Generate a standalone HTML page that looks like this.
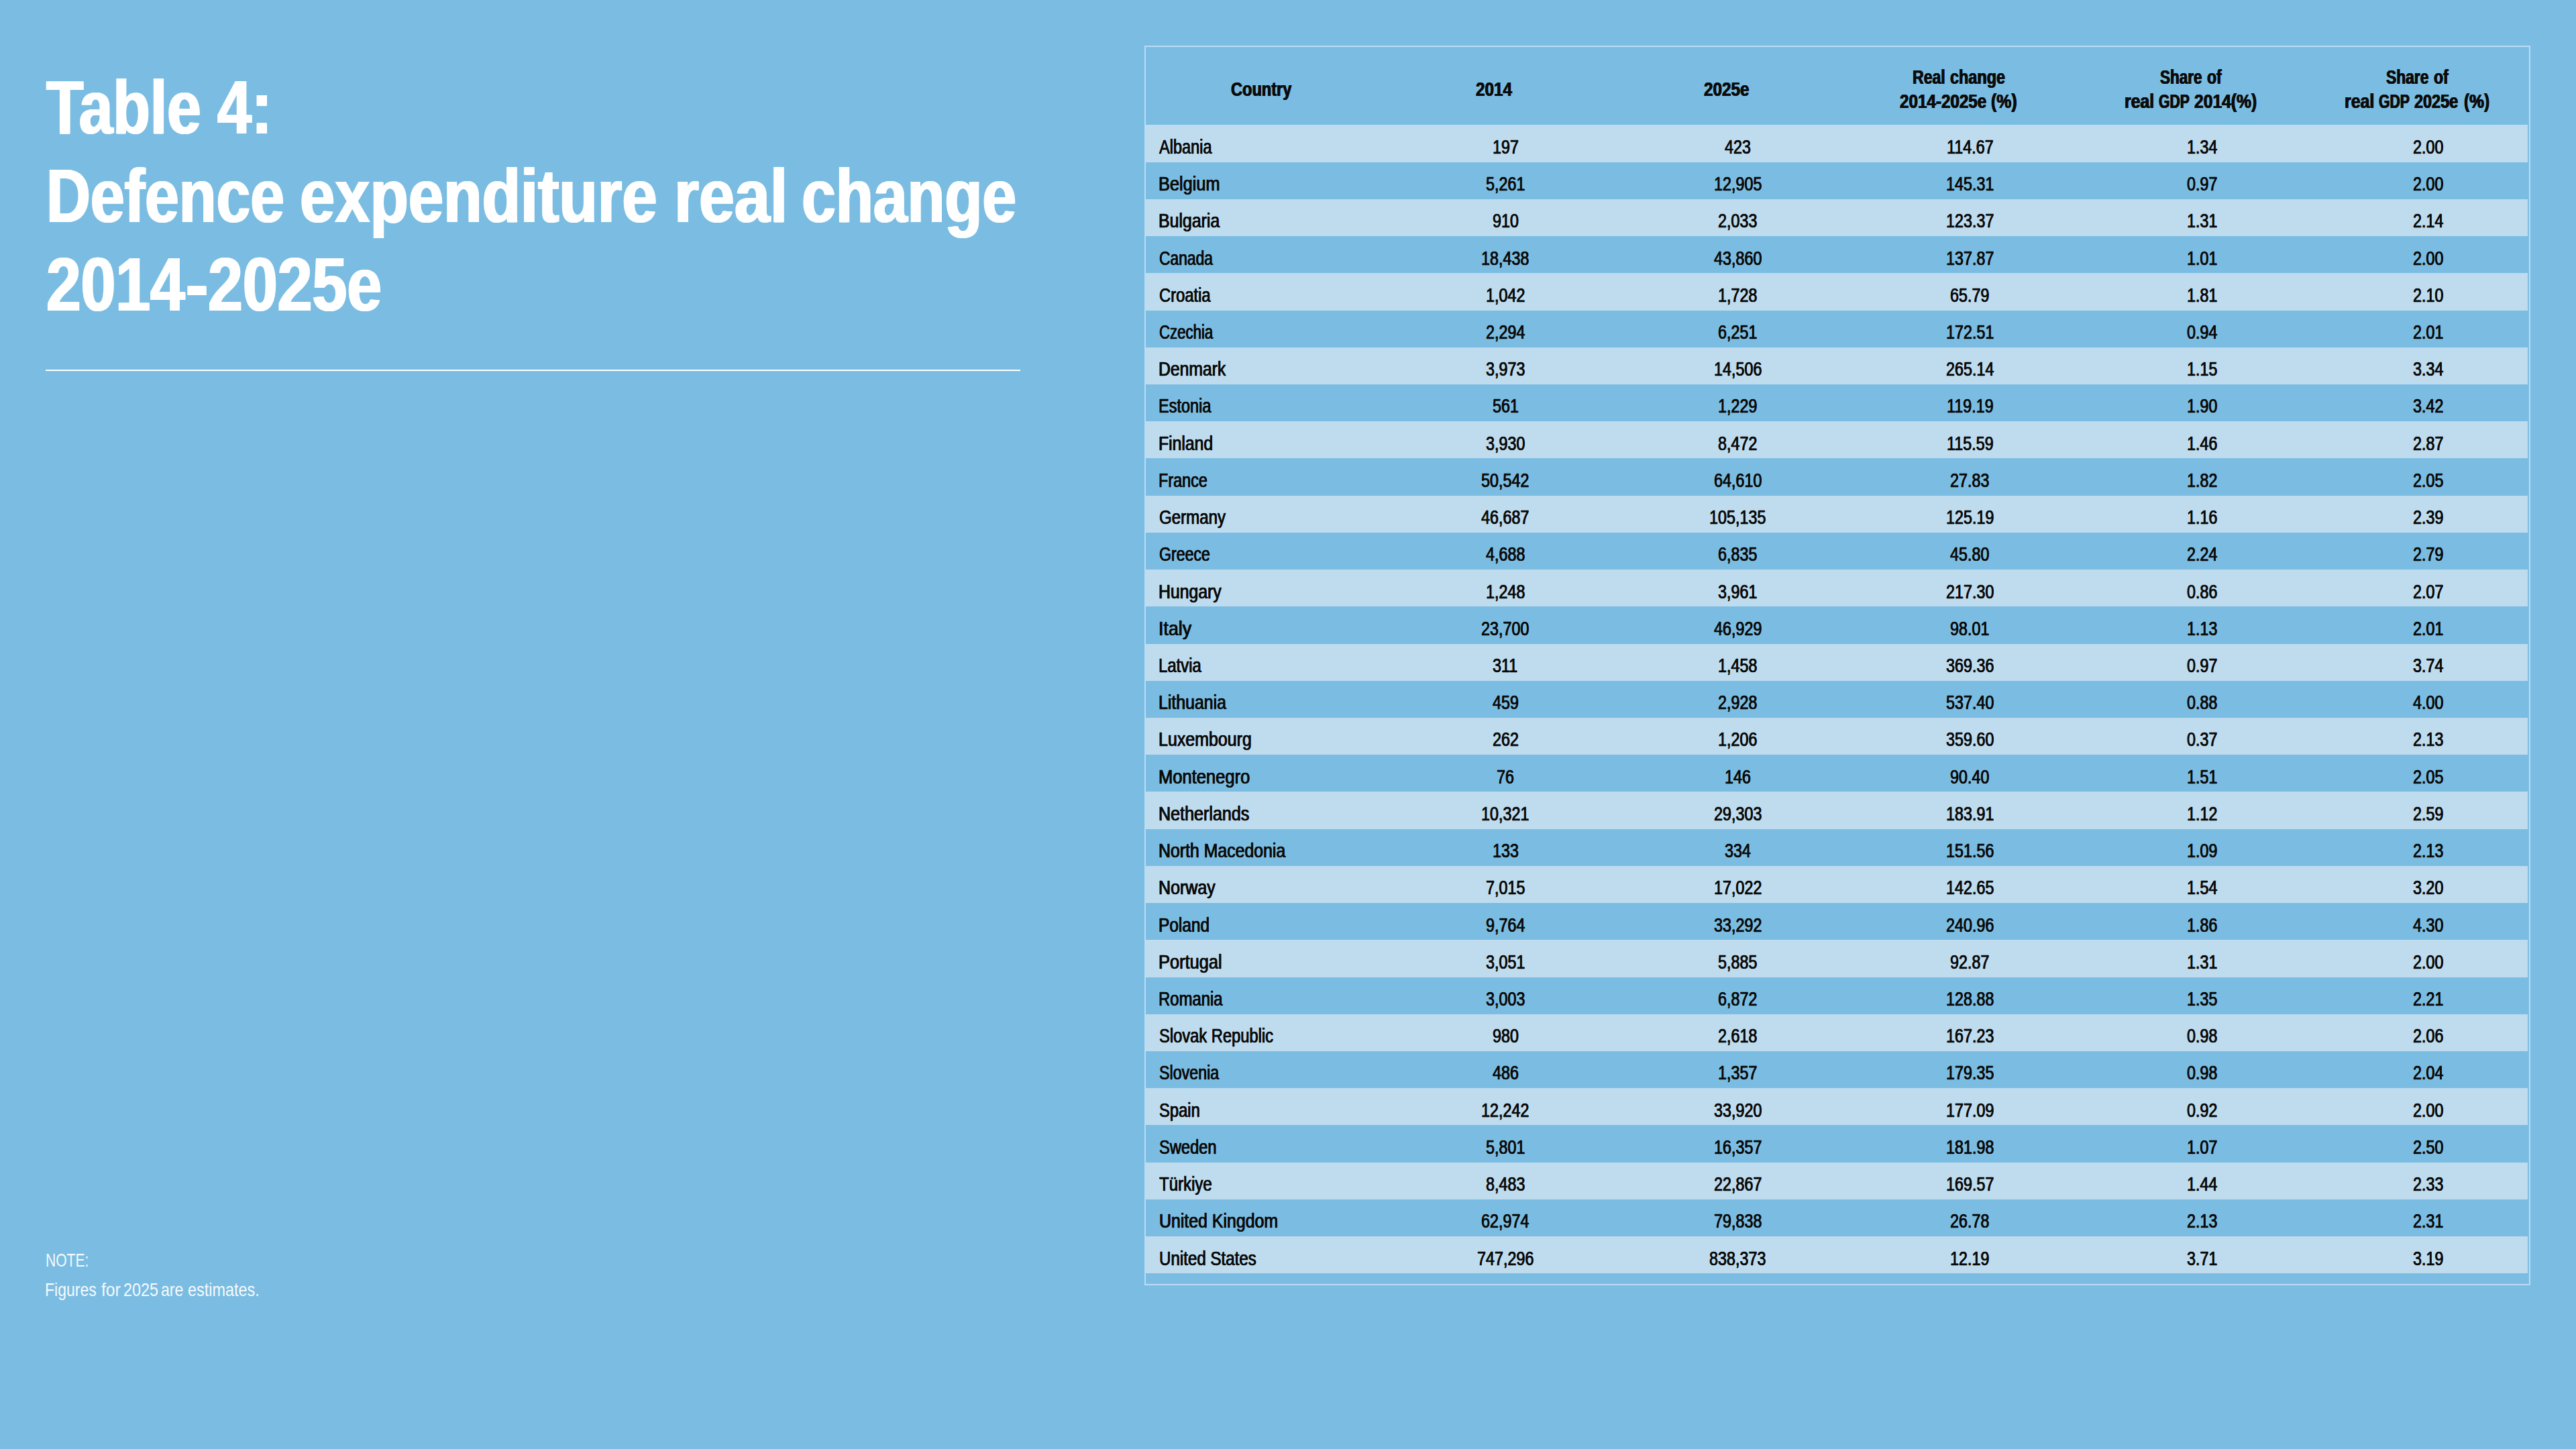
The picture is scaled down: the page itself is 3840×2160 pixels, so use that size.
<!DOCTYPE html>
<html lang="en"><head><meta charset="utf-8"><title>Table 4: Defence expenditure real change 2014-2025e</title>
<style>
html,body{margin:0;padding:0;}
body{width:3840px;height:2160px;overflow:hidden;background:#7bbde2;font-family:"Liberation Sans",sans-serif;position:relative;}
.t{position:absolute;white-space:nowrap;transform-origin:0 0;}
.h{font-weight:bold;color:#fff;font-size:113px;line-height:113px;text-shadow:1.6px 0 0 #fff,-1.6px 0 0 #fff;}
.n{color:rgba(255,255,255,.94);font-size:28px;line-height:28px;}
.th{font-weight:bold;color:#0b0b0b;font-size:29px;line-height:29px;text-shadow:.65px 0 0 #0b0b0b,-.65px 0 0 #0b0b0b;}
.td{color:#0b0b0b;font-size:29px;line-height:29px;-webkit-text-stroke:.3px #0b0b0b;text-shadow:.45px 0 0 #0b0b0b,-.45px 0 0 #0b0b0b;}
.row{position:absolute;left:1708px;width:2060px;background:#bedcee;}
.rule{position:absolute;left:68px;top:551px;width:1453px;height:2px;background:#fff;}
.frame{position:absolute;left:1706px;top:68px;width:2062px;height:1844px;border:2px solid #badbf8;}
</style></head><body>
<div class="rule"></div>
<div class="frame"></div>
<div class="row" style="top:186px;height:56px"></div>
<div class="row" style="top:297px;height:55px"></div>
<div class="row" style="top:407px;height:56px"></div>
<div class="row" style="top:518px;height:55px"></div>
<div class="row" style="top:628px;height:55px"></div>
<div class="row" style="top:739px;height:55px"></div>
<div class="row" style="top:849px;height:55px"></div>
<div class="row" style="top:960px;height:55px"></div>
<div class="row" style="top:1070px;height:55px"></div>
<div class="row" style="top:1180px;height:56px"></div>
<div class="row" style="top:1291px;height:55px"></div>
<div class="row" style="top:1401px;height:56px"></div>
<div class="row" style="top:1512px;height:55px"></div>
<div class="row" style="top:1622px;height:55px"></div>
<div class="row" style="top:1733px;height:55px"></div>
<div class="row" style="top:1843px;height:55px"></div>
<div class="t h" style="left:69.18px;top:104.25px;transform:scaleX(0.8044)">Table</div>
<div class="t h" style="left:323.88px;top:104.25px;transform:scaleX(0.8114)">4:</div>
<div class="t h" style="left:69.34px;top:236.05px;transform:scaleX(0.8075)">Defence</div>
<div class="t h" style="left:446.69px;top:236.05px;transform:scaleX(0.8315)">expenditure</div>
<div class="t h" style="left:1004.73px;top:236.05px;transform:scaleX(0.8415)">real</div>
<div class="t h" style="left:1195.25px;top:236.05px;transform:scaleX(0.8091)">change</div>
<div class="t h" style="left:68.53px;top:368.05px;transform:scaleX(0.8222)">2014</div>
<div class="t h" style="left:276.84px;top:368.05px;transform:scaleX(0.8833)">-</div>
<div class="t h" style="left:310.02px;top:368.05px;transform:scaleX(0.8244)">2025e</div>
<div class="t n" style="left:67.61px;top:1864.80px;transform:scaleX(0.7529)">NOTE:</div>
<div class="t n" style="left:67.45px;top:1908.60px;transform:scaleX(0.8222)">Figures</div>
<div class="t n" style="left:150.56px;top:1908.60px;transform:scaleX(0.8819)">for</div>
<div class="t n" style="left:184.05px;top:1908.60px;transform:scaleX(0.8336)">2025</div>
<div class="t n" style="left:240.17px;top:1908.60px;transform:scaleX(0.8263)">are</div>
<div class="t n" style="left:279.95px;top:1908.60px;transform:scaleX(0.8372)">estimates.</div>
<div class="t th" style="left:1835.41px;top:118.85px;transform:scaleX(0.8131)">Country</div>
<div class="t th" style="left:2199.91px;top:118.85px;transform:scaleX(0.8366)">2014</div>
<div class="t th" style="left:2539.51px;top:118.85px;transform:scaleX(0.8370)">2025e</div>
<div class="t th" style="left:2850.63px;top:100.65px;transform:scaleX(0.7959)">Real</div>
<div class="t th" style="left:2906.52px;top:100.65px;transform:scaleX(0.8076)">change</div>
<div class="t th" style="left:3219.63px;top:100.65px;transform:scaleX(0.7770)">Share</div>
<div class="t th" style="left:3290.22px;top:100.65px;transform:scaleX(0.7949)">of</div>
<div class="t th" style="left:3556.62px;top:100.65px;transform:scaleX(0.7858)">Share</div>
<div class="t th" style="left:3627.62px;top:100.65px;transform:scaleX(0.7949)">of</div>
<div class="t th" style="left:2831.81px;top:136.75px;transform:scaleX(0.8348)">2014-2025e</div>
<div class="t th" style="left:2968.37px;top:136.75px;transform:scaleX(0.8565)">(%)</div>
<div class="t th" style="left:3167.25px;top:136.75px;transform:scaleX(0.8545)">real</div>
<div class="t th" style="left:3218.36px;top:136.75px;transform:scaleX(0.7298)">GDP</div>
<div class="t th" style="left:3270.80px;top:136.75px;transform:scaleX(0.8503)">2014(%)</div>
<div class="t th" style="left:3495.14px;top:136.75px;transform:scaleX(0.8586)">real</div>
<div class="t th" style="left:3546.16px;top:136.75px;transform:scaleX(0.7314)">GDP</div>
<div class="t th" style="left:3599.02px;top:136.75px;transform:scaleX(0.8082)">2025e</div>
<div class="t th" style="left:3672.58px;top:136.75px;transform:scaleX(0.8450)">(%)</div>
<div class="t td" style="left:1728.49px;top:204.90px;transform:scaleX(0.8111)">Albania</div>
<div class="t td" style="left:2224.62px;top:204.90px;transform:scaleX(0.8050)">197</div>
<div class="t td" style="left:2570.72px;top:204.90px;transform:scaleX(0.8050)">423</div>
<div class="t td" style="left:2901.76px;top:204.90px;transform:scaleX(0.8050)">114.67</div>
<div class="t td" style="left:3260.08px;top:204.90px;transform:scaleX(0.8050)">1.34</div>
<div class="t td" style="left:3597.38px;top:204.90px;transform:scaleX(0.8050)">2.00</div>
<div class="t td" style="left:1727.34px;top:260.12px;transform:scaleX(0.8733)">Belgium</div>
<div class="t td" style="left:2214.89px;top:260.12px;transform:scaleX(0.8050)">5,261</div>
<div class="t td" style="left:2554.50px;top:260.12px;transform:scaleX(0.8050)">12,905</div>
<div class="t td" style="left:2900.90px;top:260.12px;transform:scaleX(0.8050)">145.31</div>
<div class="t td" style="left:3260.08px;top:260.12px;transform:scaleX(0.8050)">0.97</div>
<div class="t td" style="left:3597.38px;top:260.12px;transform:scaleX(0.8050)">2.00</div>
<div class="t td" style="left:1727.37px;top:315.34px;transform:scaleX(0.8574)">Bulgaria</div>
<div class="t td" style="left:2224.62px;top:315.34px;transform:scaleX(0.8050)">910</div>
<div class="t td" style="left:2560.99px;top:315.34px;transform:scaleX(0.8050)">2,033</div>
<div class="t td" style="left:2900.90px;top:315.34px;transform:scaleX(0.8050)">123.37</div>
<div class="t td" style="left:3260.08px;top:315.34px;transform:scaleX(0.8050)">1.31</div>
<div class="t td" style="left:3597.38px;top:315.34px;transform:scaleX(0.8050)">2.14</div>
<div class="t td" style="left:1727.99px;top:370.56px;transform:scaleX(0.7866)">Canada</div>
<div class="t td" style="left:2208.40px;top:370.56px;transform:scaleX(0.8050)">18,438</div>
<div class="t td" style="left:2554.50px;top:370.56px;transform:scaleX(0.8050)">43,860</div>
<div class="t td" style="left:2900.90px;top:370.56px;transform:scaleX(0.8050)">137.87</div>
<div class="t td" style="left:3260.08px;top:370.56px;transform:scaleX(0.8050)">1.01</div>
<div class="t td" style="left:3597.38px;top:370.56px;transform:scaleX(0.8050)">2.00</div>
<div class="t td" style="left:1727.96px;top:425.78px;transform:scaleX(0.8187)">Croatia</div>
<div class="t td" style="left:2214.89px;top:425.78px;transform:scaleX(0.8050)">1,042</div>
<div class="t td" style="left:2560.99px;top:425.78px;transform:scaleX(0.8050)">1,728</div>
<div class="t td" style="left:2907.39px;top:425.78px;transform:scaleX(0.8050)">65.79</div>
<div class="t td" style="left:3260.08px;top:425.78px;transform:scaleX(0.8050)">1.81</div>
<div class="t td" style="left:3597.38px;top:425.78px;transform:scaleX(0.8050)">2.10</div>
<div class="t td" style="left:1728.01px;top:481.00px;transform:scaleX(0.7650)">Czechia</div>
<div class="t td" style="left:2214.89px;top:481.00px;transform:scaleX(0.8050)">2,294</div>
<div class="t td" style="left:2560.99px;top:481.00px;transform:scaleX(0.8050)">6,251</div>
<div class="t td" style="left:2900.90px;top:481.00px;transform:scaleX(0.8050)">172.51</div>
<div class="t td" style="left:3260.08px;top:481.00px;transform:scaleX(0.8050)">0.94</div>
<div class="t td" style="left:3597.38px;top:481.00px;transform:scaleX(0.8050)">2.01</div>
<div class="t td" style="left:1727.38px;top:536.22px;transform:scaleX(0.8520)">Denmark</div>
<div class="t td" style="left:2214.89px;top:536.22px;transform:scaleX(0.8050)">3,973</div>
<div class="t td" style="left:2554.50px;top:536.22px;transform:scaleX(0.8050)">14,506</div>
<div class="t td" style="left:2900.90px;top:536.22px;transform:scaleX(0.8050)">265.14</div>
<div class="t td" style="left:3260.08px;top:536.22px;transform:scaleX(0.8050)">1.15</div>
<div class="t td" style="left:3597.38px;top:536.22px;transform:scaleX(0.8050)">3.34</div>
<div class="t td" style="left:1727.46px;top:591.44px;transform:scaleX(0.8098)">Estonia</div>
<div class="t td" style="left:2224.62px;top:591.44px;transform:scaleX(0.8050)">561</div>
<div class="t td" style="left:2560.99px;top:591.44px;transform:scaleX(0.8050)">1,229</div>
<div class="t td" style="left:2901.76px;top:591.44px;transform:scaleX(0.8050)">119.19</div>
<div class="t td" style="left:3260.08px;top:591.44px;transform:scaleX(0.8050)">1.90</div>
<div class="t td" style="left:3597.38px;top:591.44px;transform:scaleX(0.8050)">3.42</div>
<div class="t td" style="left:1727.38px;top:646.66px;transform:scaleX(0.8526)">Finland</div>
<div class="t td" style="left:2214.89px;top:646.66px;transform:scaleX(0.8050)">3,930</div>
<div class="t td" style="left:2560.99px;top:646.66px;transform:scaleX(0.8050)">8,472</div>
<div class="t td" style="left:2901.76px;top:646.66px;transform:scaleX(0.8050)">115.59</div>
<div class="t td" style="left:3260.08px;top:646.66px;transform:scaleX(0.8050)">1.46</div>
<div class="t td" style="left:3597.38px;top:646.66px;transform:scaleX(0.8050)">2.87</div>
<div class="t td" style="left:1727.47px;top:701.88px;transform:scaleX(0.8073)">France</div>
<div class="t td" style="left:2208.40px;top:701.88px;transform:scaleX(0.8050)">50,542</div>
<div class="t td" style="left:2554.50px;top:701.88px;transform:scaleX(0.8050)">64,610</div>
<div class="t td" style="left:2907.39px;top:701.88px;transform:scaleX(0.8050)">27.83</div>
<div class="t td" style="left:3260.08px;top:701.88px;transform:scaleX(0.8050)">1.82</div>
<div class="t td" style="left:3597.38px;top:701.88px;transform:scaleX(0.8050)">2.05</div>
<div class="t td" style="left:1727.95px;top:757.10px;transform:scaleX(0.8298)">Germany</div>
<div class="t td" style="left:2208.40px;top:757.10px;transform:scaleX(0.8050)">46,687</div>
<div class="t td" style="left:2548.01px;top:757.10px;transform:scaleX(0.8050)">105,135</div>
<div class="t td" style="left:2900.90px;top:757.10px;transform:scaleX(0.8050)">125.19</div>
<div class="t td" style="left:3260.08px;top:757.10px;transform:scaleX(0.8050)">1.16</div>
<div class="t td" style="left:3597.38px;top:757.10px;transform:scaleX(0.8050)">2.39</div>
<div class="t td" style="left:1727.98px;top:812.32px;transform:scaleX(0.7972)">Greece</div>
<div class="t td" style="left:2214.89px;top:812.32px;transform:scaleX(0.8050)">4,688</div>
<div class="t td" style="left:2560.99px;top:812.32px;transform:scaleX(0.8050)">6,835</div>
<div class="t td" style="left:2907.39px;top:812.32px;transform:scaleX(0.8050)">45.80</div>
<div class="t td" style="left:3260.08px;top:812.32px;transform:scaleX(0.8050)">2.24</div>
<div class="t td" style="left:3597.38px;top:812.32px;transform:scaleX(0.8050)">2.79</div>
<div class="t td" style="left:1727.38px;top:867.54px;transform:scaleX(0.8549)">Hungary</div>
<div class="t td" style="left:2214.89px;top:867.54px;transform:scaleX(0.8050)">1,248</div>
<div class="t td" style="left:2560.99px;top:867.54px;transform:scaleX(0.8050)">3,961</div>
<div class="t td" style="left:2900.90px;top:867.54px;transform:scaleX(0.8050)">217.30</div>
<div class="t td" style="left:3260.08px;top:867.54px;transform:scaleX(0.8050)">0.86</div>
<div class="t td" style="left:3597.38px;top:867.54px;transform:scaleX(0.8050)">2.07</div>
<div class="t td" style="left:1727.02px;top:922.76px;transform:scaleX(0.9232)">Italy</div>
<div class="t td" style="left:2208.40px;top:922.76px;transform:scaleX(0.8050)">23,700</div>
<div class="t td" style="left:2554.50px;top:922.76px;transform:scaleX(0.8050)">46,929</div>
<div class="t td" style="left:2907.39px;top:922.76px;transform:scaleX(0.8050)">98.01</div>
<div class="t td" style="left:3260.08px;top:922.76px;transform:scaleX(0.8050)">1.13</div>
<div class="t td" style="left:3597.38px;top:922.76px;transform:scaleX(0.8050)">2.01</div>
<div class="t td" style="left:1727.43px;top:977.98px;transform:scaleX(0.8241)">Latvia</div>
<div class="t td" style="left:2225.49px;top:977.98px;transform:scaleX(0.8050)">311</div>
<div class="t td" style="left:2560.99px;top:977.98px;transform:scaleX(0.8050)">1,458</div>
<div class="t td" style="left:2900.90px;top:977.98px;transform:scaleX(0.8050)">369.36</div>
<div class="t td" style="left:3260.08px;top:977.98px;transform:scaleX(0.8050)">0.97</div>
<div class="t td" style="left:3597.38px;top:977.98px;transform:scaleX(0.8050)">3.74</div>
<div class="t td" style="left:1727.37px;top:1033.20px;transform:scaleX(0.8570)">Lithuania</div>
<div class="t td" style="left:2224.62px;top:1033.20px;transform:scaleX(0.8050)">459</div>
<div class="t td" style="left:2560.99px;top:1033.20px;transform:scaleX(0.8050)">2,928</div>
<div class="t td" style="left:2900.90px;top:1033.20px;transform:scaleX(0.8050)">537.40</div>
<div class="t td" style="left:3260.08px;top:1033.20px;transform:scaleX(0.8050)">0.88</div>
<div class="t td" style="left:3597.38px;top:1033.20px;transform:scaleX(0.8050)">4.00</div>
<div class="t td" style="left:1727.36px;top:1088.42px;transform:scaleX(0.8610)">Luxembourg</div>
<div class="t td" style="left:2224.62px;top:1088.42px;transform:scaleX(0.8050)">262</div>
<div class="t td" style="left:2560.99px;top:1088.42px;transform:scaleX(0.8050)">1,206</div>
<div class="t td" style="left:2900.90px;top:1088.42px;transform:scaleX(0.8050)">359.60</div>
<div class="t td" style="left:3260.08px;top:1088.42px;transform:scaleX(0.8050)">0.37</div>
<div class="t td" style="left:3597.38px;top:1088.42px;transform:scaleX(0.8050)">2.13</div>
<div class="t td" style="left:1727.33px;top:1143.64px;transform:scaleX(0.8804)">Montenegro</div>
<div class="t td" style="left:2231.11px;top:1143.64px;transform:scaleX(0.8050)">76</div>
<div class="t td" style="left:2570.72px;top:1143.64px;transform:scaleX(0.8050)">146</div>
<div class="t td" style="left:2907.39px;top:1143.64px;transform:scaleX(0.8050)">90.40</div>
<div class="t td" style="left:3260.08px;top:1143.64px;transform:scaleX(0.8050)">1.51</div>
<div class="t td" style="left:3597.38px;top:1143.64px;transform:scaleX(0.8050)">2.05</div>
<div class="t td" style="left:1727.36px;top:1198.86px;transform:scaleX(0.8652)">Netherlands</div>
<div class="t td" style="left:2208.40px;top:1198.86px;transform:scaleX(0.8050)">10,321</div>
<div class="t td" style="left:2554.50px;top:1198.86px;transform:scaleX(0.8050)">29,303</div>
<div class="t td" style="left:2900.90px;top:1198.86px;transform:scaleX(0.8050)">183.91</div>
<div class="t td" style="left:3260.08px;top:1198.86px;transform:scaleX(0.8050)">1.12</div>
<div class="t td" style="left:3597.38px;top:1198.86px;transform:scaleX(0.8050)">2.59</div>
<div class="t td" style="left:1727.37px;top:1254.08px;transform:scaleX(0.8567)">North Macedonia</div>
<div class="t td" style="left:2224.62px;top:1254.08px;transform:scaleX(0.8050)">133</div>
<div class="t td" style="left:2570.72px;top:1254.08px;transform:scaleX(0.8050)">334</div>
<div class="t td" style="left:2900.90px;top:1254.08px;transform:scaleX(0.8050)">151.56</div>
<div class="t td" style="left:3260.08px;top:1254.08px;transform:scaleX(0.8050)">1.09</div>
<div class="t td" style="left:3597.38px;top:1254.08px;transform:scaleX(0.8050)">2.13</div>
<div class="t td" style="left:1727.36px;top:1309.30px;transform:scaleX(0.8613)">Norway</div>
<div class="t td" style="left:2214.89px;top:1309.30px;transform:scaleX(0.8050)">7,015</div>
<div class="t td" style="left:2554.50px;top:1309.30px;transform:scaleX(0.8050)">17,022</div>
<div class="t td" style="left:2900.90px;top:1309.30px;transform:scaleX(0.8050)">142.65</div>
<div class="t td" style="left:3260.08px;top:1309.30px;transform:scaleX(0.8050)">1.54</div>
<div class="t td" style="left:3597.38px;top:1309.30px;transform:scaleX(0.8050)">3.20</div>
<div class="t td" style="left:1727.40px;top:1364.52px;transform:scaleX(0.8417)">Poland</div>
<div class="t td" style="left:2214.89px;top:1364.52px;transform:scaleX(0.8050)">9,764</div>
<div class="t td" style="left:2554.50px;top:1364.52px;transform:scaleX(0.8050)">33,292</div>
<div class="t td" style="left:2900.90px;top:1364.52px;transform:scaleX(0.8050)">240.96</div>
<div class="t td" style="left:3260.08px;top:1364.52px;transform:scaleX(0.8050)">1.86</div>
<div class="t td" style="left:3597.38px;top:1364.52px;transform:scaleX(0.8050)">4.30</div>
<div class="t td" style="left:1727.34px;top:1419.74px;transform:scaleX(0.8758)">Portugal</div>
<div class="t td" style="left:2214.89px;top:1419.74px;transform:scaleX(0.8050)">3,051</div>
<div class="t td" style="left:2560.99px;top:1419.74px;transform:scaleX(0.8050)">5,885</div>
<div class="t td" style="left:2907.39px;top:1419.74px;transform:scaleX(0.8050)">92.87</div>
<div class="t td" style="left:3260.08px;top:1419.74px;transform:scaleX(0.8050)">1.31</div>
<div class="t td" style="left:3597.38px;top:1419.74px;transform:scaleX(0.8050)">2.00</div>
<div class="t td" style="left:1727.44px;top:1474.96px;transform:scaleX(0.8230)">Romania</div>
<div class="t td" style="left:2214.89px;top:1474.96px;transform:scaleX(0.8050)">3,003</div>
<div class="t td" style="left:2560.99px;top:1474.96px;transform:scaleX(0.8050)">6,872</div>
<div class="t td" style="left:2900.90px;top:1474.96px;transform:scaleX(0.8050)">128.88</div>
<div class="t td" style="left:3260.08px;top:1474.96px;transform:scaleX(0.8050)">1.35</div>
<div class="t td" style="left:3597.38px;top:1474.96px;transform:scaleX(0.8050)">2.21</div>
<div class="t td" style="left:1727.96px;top:1530.18px;transform:scaleX(0.8176)">Slovak Republic</div>
<div class="t td" style="left:2224.62px;top:1530.18px;transform:scaleX(0.8050)">980</div>
<div class="t td" style="left:2560.99px;top:1530.18px;transform:scaleX(0.8050)">2,618</div>
<div class="t td" style="left:2900.90px;top:1530.18px;transform:scaleX(0.8050)">167.23</div>
<div class="t td" style="left:3260.08px;top:1530.18px;transform:scaleX(0.8050)">0.98</div>
<div class="t td" style="left:3597.38px;top:1530.18px;transform:scaleX(0.8050)">2.06</div>
<div class="t td" style="left:1727.98px;top:1585.40px;transform:scaleX(0.8013)">Slovenia</div>
<div class="t td" style="left:2224.62px;top:1585.40px;transform:scaleX(0.8050)">486</div>
<div class="t td" style="left:2560.99px;top:1585.40px;transform:scaleX(0.8050)">1,357</div>
<div class="t td" style="left:2900.90px;top:1585.40px;transform:scaleX(0.8050)">179.35</div>
<div class="t td" style="left:3260.08px;top:1585.40px;transform:scaleX(0.8050)">0.98</div>
<div class="t td" style="left:3597.38px;top:1585.40px;transform:scaleX(0.8050)">2.04</div>
<div class="t td" style="left:1727.96px;top:1640.62px;transform:scaleX(0.8186)">Spain</div>
<div class="t td" style="left:2208.40px;top:1640.62px;transform:scaleX(0.8050)">12,242</div>
<div class="t td" style="left:2554.50px;top:1640.62px;transform:scaleX(0.8050)">33,920</div>
<div class="t td" style="left:2900.90px;top:1640.62px;transform:scaleX(0.8050)">177.09</div>
<div class="t td" style="left:3260.08px;top:1640.62px;transform:scaleX(0.8050)">0.92</div>
<div class="t td" style="left:3597.38px;top:1640.62px;transform:scaleX(0.8050)">2.00</div>
<div class="t td" style="left:1727.97px;top:1695.84px;transform:scaleX(0.8160)">Sweden</div>
<div class="t td" style="left:2214.89px;top:1695.84px;transform:scaleX(0.8050)">5,801</div>
<div class="t td" style="left:2554.50px;top:1695.84px;transform:scaleX(0.8050)">16,357</div>
<div class="t td" style="left:2900.90px;top:1695.84px;transform:scaleX(0.8050)">181.98</div>
<div class="t td" style="left:3260.08px;top:1695.84px;transform:scaleX(0.8050)">1.07</div>
<div class="t td" style="left:3597.38px;top:1695.84px;transform:scaleX(0.8050)">2.50</div>
<div class="t td" style="left:1728.48px;top:1751.06px;transform:scaleX(0.8280)">Türkiye</div>
<div class="t td" style="left:2214.89px;top:1751.06px;transform:scaleX(0.8050)">8,483</div>
<div class="t td" style="left:2554.50px;top:1751.06px;transform:scaleX(0.8050)">22,867</div>
<div class="t td" style="left:2900.90px;top:1751.06px;transform:scaleX(0.8050)">169.57</div>
<div class="t td" style="left:3260.08px;top:1751.06px;transform:scaleX(0.8050)">1.44</div>
<div class="t td" style="left:3597.38px;top:1751.06px;transform:scaleX(0.8050)">2.33</div>
<div class="t td" style="left:1727.58px;top:1806.28px;transform:scaleX(0.8582)">United Kingdom</div>
<div class="t td" style="left:2208.40px;top:1806.28px;transform:scaleX(0.8050)">62,974</div>
<div class="t td" style="left:2554.50px;top:1806.28px;transform:scaleX(0.8050)">79,838</div>
<div class="t td" style="left:2907.39px;top:1806.28px;transform:scaleX(0.8050)">26.78</div>
<div class="t td" style="left:3260.08px;top:1806.28px;transform:scaleX(0.8050)">2.13</div>
<div class="t td" style="left:3597.38px;top:1806.28px;transform:scaleX(0.8050)">2.31</div>
<div class="t td" style="left:1727.63px;top:1861.50px;transform:scaleX(0.8316)">United States</div>
<div class="t td" style="left:2201.91px;top:1861.50px;transform:scaleX(0.8050)">747,296</div>
<div class="t td" style="left:2548.01px;top:1861.50px;transform:scaleX(0.8050)">838,373</div>
<div class="t td" style="left:2907.39px;top:1861.50px;transform:scaleX(0.8050)">12.19</div>
<div class="t td" style="left:3260.08px;top:1861.50px;transform:scaleX(0.8050)">3.71</div>
<div class="t td" style="left:3597.38px;top:1861.50px;transform:scaleX(0.8050)">3.19</div>
</body></html>
